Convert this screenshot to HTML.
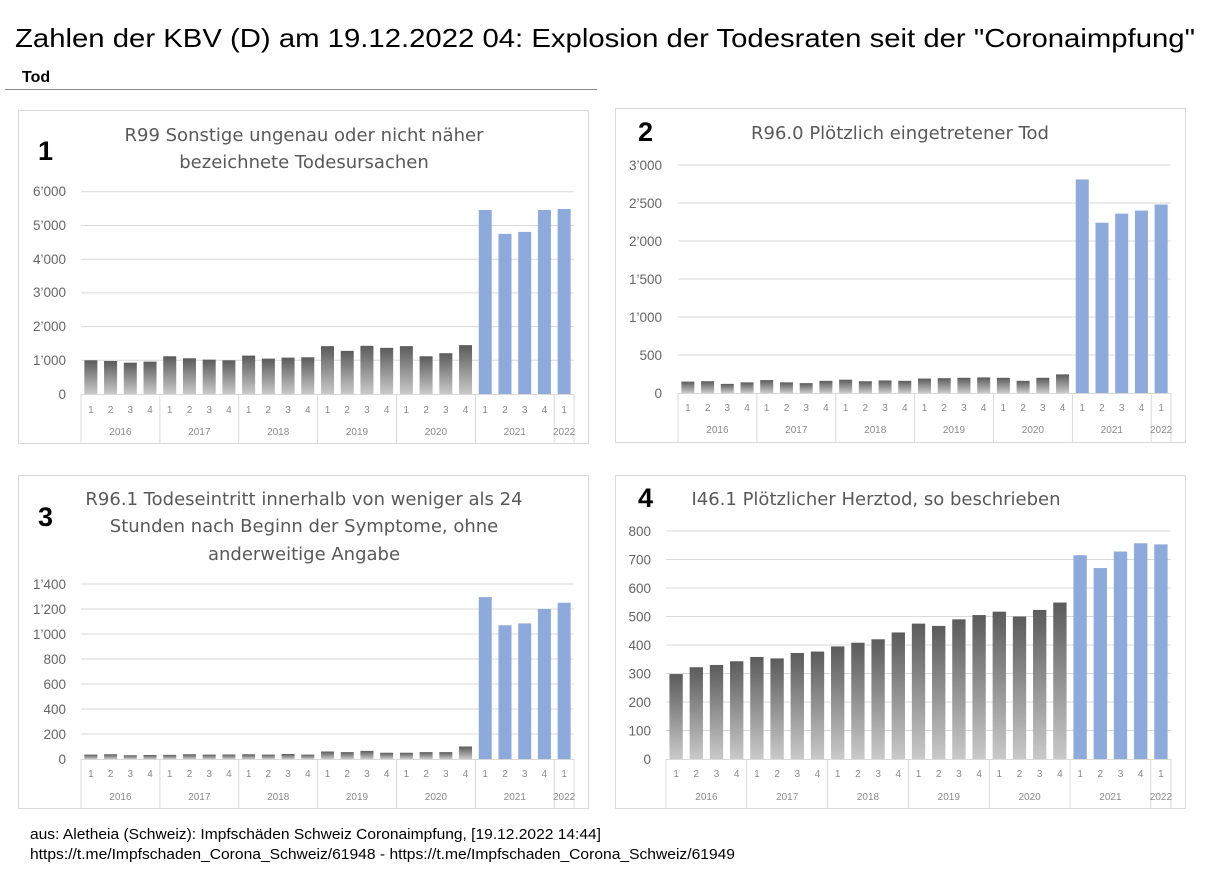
<!DOCTYPE html>
<html><head><meta charset="utf-8"><style>
body{margin:0;background:#fff;width:1206px;height:875px;overflow:hidden}
svg{display:block}
.t{font-family:"Liberation Sans",Arial,sans-serif}
.ct{font-family:"DejaVu Sans","Liberation Sans",sans-serif;font-size:18px;fill:#595959;text-anchor:middle}
.yl{font-family:"Liberation Sans",sans-serif;font-size:13.5px;fill:#666;text-anchor:end}
.q{font-family:"Liberation Sans",sans-serif;font-size:10px;fill:#8a8a8a;text-anchor:middle}
.n{font-family:"Liberation Sans",sans-serif;font-size:27px;font-weight:bold;fill:#000}
.g{stroke:#d9d9d9;stroke-width:1}
</style></head><body>
<svg width="1206" height="875" viewBox="0 0 1206 875">
<defs>
<linearGradient id="gr" x1="0" y1="0" x2="0" y2="1"><stop offset="0" stop-color="#c9c9c9"/><stop offset="1" stop-color="#5b5b5b"/></linearGradient>
</defs>
<text class="t" x="15" y="47" font-size="26" textLength="1180" lengthAdjust="spacingAndGlyphs">Zahlen der KBV (D) am 19.12.2022  04: Explosion der Todesraten seit der "Coronaimpfung"</text>
<text class="t" x="22" y="82" font-size="16" font-weight="bold">Tod</text>
<line x1="5" y1="89.5" x2="597" y2="89.5" stroke="#888" stroke-width="1"/>

<rect x="18.5" y="110.5" width="570" height="333" fill="none" stroke="#d9d9d9"/>
<rect x="615.5" y="108.5" width="570" height="334" fill="none" stroke="#d9d9d9"/>
<rect x="18.5" y="475.5" width="570" height="333" fill="none" stroke="#d9d9d9"/>
<rect x="615.5" y="475.5" width="570" height="333" fill="none" stroke="#d9d9d9"/>

<!-- CHART 1 -->
<text class="n" x="38" y="160">1</text>
<text class="ct" x="304" y="141">R99 Sonstige ungenau oder nicht näher</text>
<text class="ct" x="304" y="168">bezeichnete Todesursachen</text>
<g class="g"><line x1="81" x2="574" y1="360.3" y2="360.3"/><line x1="81" x2="574" y1="326.6" y2="326.6"/><line x1="81" x2="574" y1="292.9" y2="292.9"/><line x1="81" x2="574" y1="259.2" y2="259.2"/><line x1="81" x2="574" y1="225.5" y2="225.5"/><line x1="81" x2="574" y1="191.8" y2="191.8"/></g>
<g class="yl"><text x="66" y="399">0</text><text x="66" y="365">1’000</text><text x="66" y="331">2’000</text><text x="66" y="297">3’000</text><text x="66" y="264">4’000</text><text x="66" y="230">5’000</text><text x="66" y="196">6’000</text></g>
<g transform="translate(81,394) scale(19.72,-0.0337)">
<g fill="url(#gr)">
<rect x="0.17" width="0.66" height="1000"/><rect x="1.17" width="0.66" height="980"/><rect x="2.17" width="0.66" height="930"/><rect x="3.17" width="0.66" height="960"/><rect x="4.17" width="0.66" height="1120"/><rect x="5.17" width="0.66" height="1060"/><rect x="6.17" width="0.66" height="1020"/><rect x="7.17" width="0.66" height="1000"/><rect x="8.17" width="0.66" height="1140"/><rect x="9.17" width="0.66" height="1050"/><rect x="10.17" width="0.66" height="1080"/><rect x="11.17" width="0.66" height="1090"/><rect x="12.17" width="0.66" height="1420"/><rect x="13.17" width="0.66" height="1280"/><rect x="14.17" width="0.66" height="1430"/><rect x="15.17" width="0.66" height="1370"/><rect x="16.17" width="0.66" height="1420"/><rect x="17.17" width="0.66" height="1120"/><rect x="18.17" width="0.66" height="1210"/><rect x="19.17" width="0.66" height="1450"/>
</g><g fill="#8eaadb">
<rect x="20.17" width="0.66" height="5460"/><rect x="21.17" width="0.66" height="4750"/><rect x="22.17" width="0.66" height="4810"/><rect x="23.17" width="0.66" height="5460"/><rect x="24.17" width="0.66" height="5490"/>
</g></g>
<g class="g"><line x1="81" x2="574" y1="394.5" y2="394.5"/><line x1="81" x2="81" y1="394" y2="444"/><line x1="159.9" x2="159.9" y1="394" y2="444"/><line x1="238.8" x2="238.8" y1="394" y2="444"/><line x1="317.6" x2="317.6" y1="394" y2="444"/><line x1="396.5" x2="396.5" y1="394" y2="444"/><line x1="475.4" x2="475.4" y1="394" y2="444"/><line x1="554.2" x2="554.2" y1="394" y2="444"/><line x1="574" x2="574" y1="394" y2="444"/></g>
<text class="q" x="90.9 110.6 130.3 150 169.7 189.5 209.2 228.9 248.6 268.3 288 307.8 327.5 347.2 366.9 386.6 406.3 426.1 445.8 465.5 485.2 504.9 524.6 544.4 564.1" y="413">1234123412341234123412341</text>
<g class="q"><text x="120.4" y="435">2016</text><text x="199.3" y="435">2017</text><text x="278.2" y="435">2018</text><text x="357" y="435">2019</text><text x="435.9" y="435">2020</text><text x="514.8" y="435">2021</text><text x="564.1" y="435">2022</text></g>

<!-- CHART 2 -->
<text class="n" x="638" y="141">2</text>
<text class="ct" x="900" y="139">R96.0 Plötzlich eingetretener Tod</text>
<g class="g"><line x1="678" x2="1171" y1="355" y2="355"/><line x1="678" x2="1171" y1="317" y2="317"/><line x1="678" x2="1171" y1="279" y2="279"/><line x1="678" x2="1171" y1="241" y2="241"/><line x1="678" x2="1171" y1="203" y2="203"/><line x1="678" x2="1171" y1="165" y2="165"/></g>
<g class="yl"><text x="662" y="398">0</text><text x="662" y="360">500</text><text x="662" y="322">1’000</text><text x="662" y="284">1’500</text><text x="662" y="246">2’000</text><text x="662" y="208">2’500</text><text x="662" y="170">3’000</text></g>
<g transform="translate(678,393) scale(19.72,-0.076)">
<g fill="url(#gr)">
<rect x="0.17" width="0.66" height="150"/><rect x="1.17" width="0.66" height="155"/><rect x="2.17" width="0.66" height="120"/><rect x="3.17" width="0.66" height="140"/><rect x="4.17" width="0.66" height="170"/><rect x="5.17" width="0.66" height="140"/><rect x="6.17" width="0.66" height="130"/><rect x="7.17" width="0.66" height="160"/><rect x="8.17" width="0.66" height="175"/><rect x="9.17" width="0.66" height="155"/><rect x="10.17" width="0.66" height="165"/><rect x="11.17" width="0.66" height="160"/><rect x="12.17" width="0.66" height="190"/><rect x="13.17" width="0.66" height="195"/><rect x="14.17" width="0.66" height="200"/><rect x="15.17" width="0.66" height="205"/><rect x="16.17" width="0.66" height="200"/><rect x="17.17" width="0.66" height="160"/><rect x="18.17" width="0.66" height="200"/><rect x="19.17" width="0.66" height="245"/>
</g><g fill="#8eaadb">
<rect x="20.17" width="0.66" height="2810"/><rect x="21.17" width="0.66" height="2240"/><rect x="22.17" width="0.66" height="2360"/><rect x="23.17" width="0.66" height="2400"/><rect x="24.17" width="0.66" height="2480"/>
</g></g>
<g class="g"><line x1="678" x2="1171" y1="393.5" y2="393.5"/><line x1="678" x2="678" y1="393" y2="443"/><line x1="756.9" x2="756.9" y1="393" y2="443"/><line x1="835.8" x2="835.8" y1="393" y2="443"/><line x1="914.6" x2="914.6" y1="393" y2="443"/><line x1="993.5" x2="993.5" y1="393" y2="443"/><line x1="1072.4" x2="1072.4" y1="393" y2="443"/><line x1="1151.2" x2="1151.2" y1="393" y2="443"/><line x1="1171" x2="1171" y1="393" y2="443"/></g>
<text class="q" x="687.9 707.6 727.3 747 766.7 786.5 806.2 825.9 845.6 865.3 885 904.8 924.5 944.2 963.9 983.6 1003.3 1023.1 1042.8 1062.5 1082.2 1101.9 1121.6 1141.4 1161.1" y="411">1234123412341234123412341</text>
<g class="q"><text x="717.4" y="433">2016</text><text x="796.3" y="433">2017</text><text x="875.2" y="433">2018</text><text x="954" y="433">2019</text><text x="1032.9" y="433">2020</text><text x="1111.8" y="433">2021</text><text x="1161.1" y="433">2022</text></g>

<!-- CHART 3 -->
<text class="n" x="38" y="526">3</text>
<text class="ct" x="304" y="505">R96.1 Todeseintritt innerhalb von weniger als 24</text>
<text class="ct" x="304" y="532">Stunden nach Beginn der Symptome, ohne</text>
<text class="ct" x="304" y="560">anderweitige Angabe</text>
<g class="g"><line x1="81" x2="574" y1="734" y2="734"/><line x1="81" x2="574" y1="709" y2="709"/><line x1="81" x2="574" y1="684" y2="684"/><line x1="81" x2="574" y1="659" y2="659"/><line x1="81" x2="574" y1="634" y2="634"/><line x1="81" x2="574" y1="609" y2="609"/><line x1="81" x2="574" y1="584" y2="584"/></g>
<g class="yl"><text x="66" y="764">0</text><text x="66" y="739">200</text><text x="66" y="714">400</text><text x="66" y="689">600</text><text x="66" y="664">800</text><text x="66" y="639">1’000</text><text x="66" y="614">1’200</text><text x="66" y="589">1’400</text></g>
<g transform="translate(81,759) scale(19.72,-0.125)">
<g fill="url(#gr)">
<rect x="0.17" width="0.66" height="35"/><rect x="1.17" width="0.66" height="38"/><rect x="2.17" width="0.66" height="30"/><rect x="3.17" width="0.66" height="32"/><rect x="4.17" width="0.66" height="33"/><rect x="5.17" width="0.66" height="38"/><rect x="6.17" width="0.66" height="35"/><rect x="7.17" width="0.66" height="36"/><rect x="8.17" width="0.66" height="38"/><rect x="9.17" width="0.66" height="35"/><rect x="10.17" width="0.66" height="40"/><rect x="11.17" width="0.66" height="35"/><rect x="12.17" width="0.66" height="60"/><rect x="13.17" width="0.66" height="55"/><rect x="14.17" width="0.66" height="65"/><rect x="15.17" width="0.66" height="50"/><rect x="16.17" width="0.66" height="50"/><rect x="17.17" width="0.66" height="55"/><rect x="18.17" width="0.66" height="55"/><rect x="19.17" width="0.66" height="100"/>
</g><g fill="#8eaadb">
<rect x="20.17" width="0.66" height="1295"/><rect x="21.17" width="0.66" height="1070"/><rect x="22.17" width="0.66" height="1085"/><rect x="23.17" width="0.66" height="1200"/><rect x="24.17" width="0.66" height="1250"/>
</g></g>
<g class="g"><line x1="81" x2="574" y1="759.5" y2="759.5"/><line x1="81" x2="81" y1="759" y2="809"/><line x1="159.9" x2="159.9" y1="759" y2="809"/><line x1="238.8" x2="238.8" y1="759" y2="809"/><line x1="317.6" x2="317.6" y1="759" y2="809"/><line x1="396.5" x2="396.5" y1="759" y2="809"/><line x1="475.4" x2="475.4" y1="759" y2="809"/><line x1="554.2" x2="554.2" y1="759" y2="809"/><line x1="574" x2="574" y1="759" y2="809"/></g>
<text class="q" x="90.9 110.6 130.3 150 169.7 189.5 209.2 228.9 248.6 268.3 288 307.8 327.5 347.2 366.9 386.6 406.3 426.1 445.8 465.5 485.2 504.9 524.6 544.4 564.1" y="777">1234123412341234123412341</text>
<g class="q"><text x="120.4" y="800">2016</text><text x="199.3" y="800">2017</text><text x="278.2" y="800">2018</text><text x="357" y="800">2019</text><text x="435.9" y="800">2020</text><text x="514.8" y="800">2021</text><text x="564.1" y="800">2022</text></g>

<!-- CHART 4 -->
<text class="n" x="638" y="507">4</text>
<text class="ct" x="876" y="505">I46.1 Plötzlicher Herztod, so beschrieben</text>
<g class="g"><line x1="666" x2="1171" y1="730.5" y2="730.5"/><line x1="666" x2="1171" y1="702" y2="702"/><line x1="666" x2="1171" y1="673.5" y2="673.5"/><line x1="666" x2="1171" y1="645" y2="645"/><line x1="666" x2="1171" y1="616.5" y2="616.5"/><line x1="666" x2="1171" y1="588" y2="588"/><line x1="666" x2="1171" y1="559.5" y2="559.5"/><line x1="666" x2="1171" y1="531" y2="531"/></g>
<g class="yl"><text x="651" y="764">0</text><text x="651" y="735.5">100</text><text x="651" y="707">200</text><text x="651" y="678.5">300</text><text x="651" y="650">400</text><text x="651" y="621.5">500</text><text x="651" y="593">600</text><text x="651" y="564.5">700</text><text x="651" y="536">800</text></g>
<g transform="translate(666,759) scale(20.2,-0.285)">
<g fill="url(#gr)">
<rect x="0.17" width="0.66" height="298"/><rect x="1.17" width="0.66" height="322"/><rect x="2.17" width="0.66" height="330"/><rect x="3.17" width="0.66" height="343"/><rect x="4.17" width="0.66" height="358"/><rect x="5.17" width="0.66" height="353"/><rect x="6.17" width="0.66" height="372"/><rect x="7.17" width="0.66" height="377"/><rect x="8.17" width="0.66" height="395"/><rect x="9.17" width="0.66" height="408"/><rect x="10.17" width="0.66" height="420"/><rect x="11.17" width="0.66" height="444"/><rect x="12.17" width="0.66" height="475"/><rect x="13.17" width="0.66" height="467"/><rect x="14.17" width="0.66" height="490"/><rect x="15.17" width="0.66" height="505"/><rect x="16.17" width="0.66" height="517"/><rect x="17.17" width="0.66" height="500"/><rect x="18.17" width="0.66" height="523"/><rect x="19.17" width="0.66" height="549"/>
</g><g fill="#8eaadb">
<rect x="20.17" width="0.66" height="715"/><rect x="21.17" width="0.66" height="670"/><rect x="22.17" width="0.66" height="728"/><rect x="23.17" width="0.66" height="757"/><rect x="24.17" width="0.66" height="753"/>
</g></g>
<g class="g"><line x1="666" x2="1171" y1="759.5" y2="759.5"/><line x1="666" x2="666" y1="759" y2="809"/><line x1="746.8" x2="746.8" y1="759" y2="809"/><line x1="827.6" x2="827.6" y1="759" y2="809"/><line x1="908.4" x2="908.4" y1="759" y2="809"/><line x1="989.2" x2="989.2" y1="759" y2="809"/><line x1="1070" x2="1070" y1="759" y2="809"/><line x1="1150.8" x2="1150.8" y1="759" y2="809"/><line x1="1171" x2="1171" y1="759" y2="809"/></g>
<text class="q" x="676.1 696.3 716.5 736.7 756.9 777.1 797.3 817.5 837.7 857.9 878.1 898.3 918.5 938.7 958.9 979.1 999.3 1019.5 1039.7 1059.9 1080.1 1100.3 1120.5 1140.7 1160.9" y="777">1234123412341234123412341</text>
<g class="q"><text x="706.4" y="800">2016</text><text x="787.2" y="800">2017</text><text x="868" y="800">2018</text><text x="948.8" y="800">2019</text><text x="1029.6" y="800">2020</text><text x="1110.4" y="800">2021</text><text x="1160.9" y="800">2022</text></g>

<!-- footer -->
<text class="t" x="30" y="839" font-size="14.5" textLength="571" lengthAdjust="spacingAndGlyphs">aus: Aletheia (Schweiz): Impfschäden Schweiz Coronaimpfung, [19.12.2022 14:44]</text>
<text class="t" x="30" y="859" font-size="14.5" textLength="705" lengthAdjust="spacingAndGlyphs">https://t.me/Impfschaden_Corona_Schweiz/61948 - https://t.me/Impfschaden_Corona_Schweiz/61949</text>
</svg>
</body></html>
